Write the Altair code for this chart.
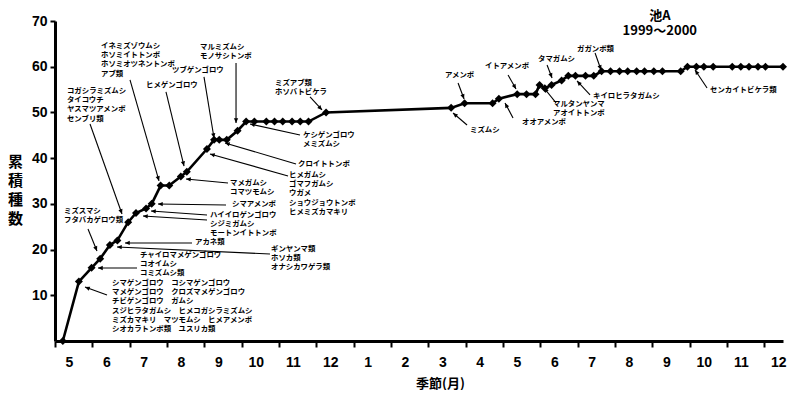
import math
import altair as alt
import pandas as pd

# ---- main series (x in months since start of May 1999, y = cumulative species) ----
month_pos = [0.21, 0.64, 0.98, 1.21, 1.47, 1.67, 1.96, 2.17, 2.44, 2.59,
             2.83, 3.06, 3.37, 3.53, 4.07, 4.26, 4.40, 4.60, 4.89, 5.12,
             5.34, 5.66, 5.88, 6.10, 6.35, 6.57, 6.79, 7.26, 10.61, 10.97,
             11.72, 11.89, 12.38, 12.63, 12.87, 12.98, 13.12, 13.30, 13.57, 13.75,
             13.94, 14.21, 14.43, 14.64, 14.88, 15.12, 15.34, 15.58, 15.79, 16.04,
             16.27, 16.76, 16.94, 17.18, 17.38, 17.63, 18.14, 18.37, 18.59, 18.83,
             19.03, 19.50]
species = [0, 13, 16, 18, 21, 22, 26, 28, 29, 30,
           34, 34, 36, 37, 42, 44, 44, 44, 46, 48,
           48, 48, 48, 48, 48, 48, 48, 50, 51, 52,
           52, 53, 54, 54, 54, 56, 55.3, 56, 57, 58,
           58, 58, 58, 59, 59, 59, 59, 59, 59, 59,
           59, 59, 60, 60, 60, 60, 60, 60, 60, 60,
           60, 60]

month_labels = ['5', '6', '7', '8', '9', '10', '11', '12', '1', '2', '3', '4',
                '5', '6', '7', '8', '9', '10', '11', '12']
y_ticks = [10, 20, 30, 40, 50, 60, 70]

# ---- annotations: text blocks (left, top in data units) ----
ann_text = [
    ["イネミズゾウムシ", "ホソミイトトンボ", "ホソミオツネントンボ", "アブ類"],
    ["ツブゲンゴロウ"],
    ["ヒメゲンゴロウ"],
    ["マルミズムシ", "モノサシトンボ"],
    ["コガシラミズムシ", "タイコウチ", "ヤスマツアメンボ", "センブリ類"],
    ["ミズスマシ", "フタバカゲロウ類"],
    ["マメガムシ", "コマツモムシ"],
    ["シマアメンボ"],
    ["ハイイロゲンゴロウ", "シジミガムシ", "モートンイトトンボ"],
    ["アカネ類"],
    ["ギンヤンマ類", "ホソカ類", "オナシカワゲラ類"],
    ["チャイロマメゲンゴロウ", "コオイムシ", "コミズムシ類"],
    ["シマゲンゴロウ　コシマゲンゴロウ", "マメゲンゴロウ　クロズマメゲンゴロウ",
     "チビゲンゴロウ　ガムシ", "スジヒラタガムシ　ヒメコガシラミズムシ",
     "ミズカマキリ　マツモムシ　ヒメアメンボ", "シオカラトンボ類　ユスリカ類"],
    ["ケシゲンゴロウ", "メミズムシ"],
    ["クロイトトンボ"],
    ["ヒメガムシ", "ゴマフガムシ", "ウガメ", "ショウジョウトンボ", "ヒメミズカマキリ"],
    ["ミズアブ類", "ホソバトビケラ"],
    ["アメンボ"],
    ["ミズムシ"],
    ["イトアメンボ"],
    ["オオアメンボ"],
    ["タマガムシ"],
    ["ガガンボ類"],
    ["マルタンヤンマ", "アオイトトンボ"],
    ["キイロヒラタガムシ"],
    ["センカイトビケラ類"],
]
ann_x = [1.232, 3.134, 2.438, 3.884, 0.321, 0.241, 4.688, 4.741, 4.152, 3.750,
         5.786, 2.277, 1.527, 6.643, 6.510, 6.268, 5.893, 10.447, 11.117, 11.519,
         12.510, 12.939, 13.983, 13.340, 14.412, 17.546]
ann_y = [65.41, 60.16, 56.88, 65.19, 55.57, 29.31, 35.44, 30.85, 28.44, 22.53,
         21.00, 19.70, 13.56, 45.94, 39.60, 37.19, 57.32, 59.07, 47.04, 61.04,
         48.79, 62.57, 64.76, 52.72, 54.47, 55.79]

# ---- arrows: from (x1, y1) to (x2, y2) in data units ----
arr_x1 = [2.009, 3.991, 2.973, 4.849, 0.938, 0.884, 4.634, 4.581, 4.072, 4.072,
          3.670, 5.759, 2.197, 1.393, 6.563, 6.456, 6.242, 6.831, 10.796, 11.037,
          12.135, 12.269, 13.180, 14.466, 13.421, 14.332, 17.466]
arr_y1 = [57.10, 57.76, 54.47, 60.82, 47.47, 24.50, 34.57, 29.75, 27.57, 26.47,
          21.44, 19.03, 15.97, 10.06, 45.07, 38.72, 36.10, 53.38, 56.44, 47.25,
          58.19, 48.79, 60.38, 63.01, 52.07, 53.82, 55.35]
arr_x2 = [2.786, 4.259, 3.456, 4.849, 1.795, 1.125, 3.509, 2.759, 2.572, 2.357,
          1.875, 1.661, 1.152, 0.804, 5.224, 4.554, 4.152, 7.152, 10.957, 10.662,
          12.349, 12.054, 13.314, 14.627, 13.099, 13.983, 17.144]
arr_y2 = [35.01, 44.41, 38.28, 47.69, 27.78, 19.69, 35.44, 29.97, 28.44, 27.35,
          21.44, 20.56, 15.97, 11.81, 47.47, 43.32, 40.91, 50.54, 52.94, 49.88,
          55.13, 52.07, 57.54, 59.29, 55.35, 56.88, 59.29]

title_lines = ["池A", "1999～2000"]

# ---- geometry ----
W, H = 728, 320
XMAX, YMAX = 19.5, 70
PXX, PXY = W / XMAX, H / YMAX

JP = "Noto Sans CJK JP"
NUM = "Liberation Sans Narrow, Liberation Sans, Arial"

main = pd.DataFrame({"m": month_pos, "n": species})
ann = pd.DataFrame({"x": ann_x, "y": ann_y, "t": ["\n".join(t) for t in ann_text]})

angles = []
for a, b, c, d in zip(arr_x1, arr_y1, arr_x2, arr_y2):
    dx = (c - a) * PXX
    dy = -(d - b) * PXY
    angles.append(math.degrees(math.atan2(dx, -dy)) % 360)
arr = pd.DataFrame({"x1": arr_x1, "y1": arr_y1, "x2": arr_x2, "y2": arr_y2, "ang": angles})

xs = alt.Scale(domain=[0, XMAX], nice=False, zero=False)
ys = alt.Scale(domain=[0, YMAX], nice=False)

label_expr = "[" + ",".join("'%s'" % s for s in month_labels) + "][datum.value]"

x_axis = alt.Axis(values=list(range(len(month_labels))), labelExpr=label_expr,
                  labelOverlap=False, labelFlush=False, labelBound=False,
                  grid=False, domainColor="black", domainWidth=3, tickColor="black",
                  tickWidth=2, tickSize=6, labelOffset=14, labelPadding=8,
                  labelFont=NUM, labelFontSize=14, labelFontWeight="bold", labelColor="black",
                  title="季節(月)", titleFont=JP, titleFontSize=13, titleFontWeight="bold",
                  titleColor="black", titleX=385, titleY=42, titleAnchor="middle",
                  titleBaseline="middle")
y_axis = alt.Axis(values=y_ticks, grid=False, domainColor="black", domainWidth=3,
                  labelOverlap=False,
                  tickColor="black", tickWidth=2, tickSize=5, labelPadding=3,
                  labelFont=NUM, labelFontSize=14, labelFontWeight="bold", labelColor="black",
                  title=["累", "積", "種", "数"], titleAngle=0, titleFont=JP,
                  titleFontSize=15, titleFontWeight="bold", titleColor="black",
                  titleX=-40, titleY=133, titleAlign="center", titleBaseline="top",
                  titleLineHeight=19)


def X(field):
    return alt.X(field, scale=xs, axis=x_axis)


def Y(field):
    return alt.Y(field, scale=ys, axis=y_axis)


line = alt.Chart(main).mark_line(color="black", strokeWidth=2.6).encode(
    x=X("m:Q"), y=Y("n:Q"))
pts = alt.Chart(main).mark_point(shape="diamond", filled=True, color="black",
                                 size=64, opacity=1).encode(x=X("m:Q"), y=Y("n:Q"))

rules = alt.Chart(arr).mark_rule(color="black", strokeWidth=1.1).encode(
    x=X("x1:Q"), y=Y("y1:Q"), x2="x2:Q", y2="y2:Q")
heads = alt.Chart(arr).mark_point(shape="M0,0L-0.45,1L0.45,1Z", filled=True,
                                  color="black", size=90, opacity=1, strokeWidth=0).encode(
    x=X("x2:Q"), y=Y("y2:Q"), angle=alt.Angle("ang:Q", scale=None))

texts = alt.Chart(ann).mark_text(align="left", baseline="top", lineBreak="\n",
                                 lineHeight=9.2, font=JP, fontSize=7.4,
                                 fontWeight="bold", color="black").encode(
    x=X("x:Q"), y=Y("y:Q"), text="t:N")

ttl = pd.DataFrame({"x": [16.2], "y": [72.4], "t": ["\n".join(title_lines)]})
title_marks = alt.Chart(ttl).mark_text(align="center", baseline="top", lineBreak="\n",
                                       lineHeight=14.5, font=JP, fontSize=13,
                                       fontWeight="bold", color="black").encode(
    x=X("x:Q"), y=Y("y:Q"), text="t:N")

chart = alt.layer(line, rules, heads, pts, texts, title_marks).properties(
    width=W, height=H,
    autosize=alt.AutoSizeParams(type="none"),
    padding={"left": 47, "top": 13, "right": 9, "bottom": 49},
    background="white",
).configure_view(stroke=None)

chart.save("out.html", embed_options={"renderer": "svg", "actions": False})
